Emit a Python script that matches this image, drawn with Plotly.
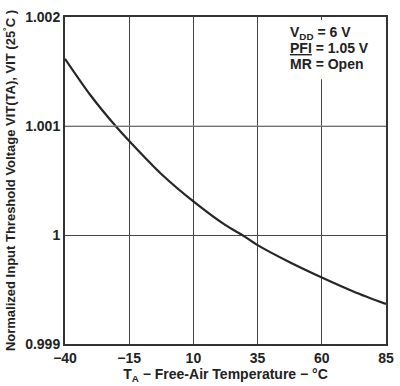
import plotly.graph_objects as go

temps = [-40, -30, -20.3, -15, -2.5, 10, 22.5, 29, 35, 47.5, 60, 72.5, 85]
vit_norm = [1.001617, 1.00128, 1.001, 1.000863, 1.00056, 1.000308, 1.00009, 1.0, 0.999907, 0.99975, 0.99961, 0.99948, 0.999367]

x_ticks = [-40, -15, 10, 35, 60, 85]
y_ticks = [0.999, 1, 1.001, 1.002]
y_tick_labels = ["0.999", "1", "1.001", "1.002"]

cond_lines = ["V<sub>DD</sub> = 6 V", "<u>PFI</u> = 1.05 V", "MR = Open"]

font_family = "Liberation Sans, Arial, sans-serif"
ink = "#222222"

fig = go.Figure()
fig.add_trace(go.Scatter(
    x=temps, y=vit_norm, mode="lines",
    line=dict(color="#262626", width=2.2, shape="spline", smoothing=0.8),
    showlegend=False, hoverinfo="skip",
))

fig.update_layout(
    width=400, height=386,
    margin=dict(l=65, r=6, t=17, b=40),
    paper_bgcolor="white", plot_bgcolor="white",
    font=dict(family=font_family, size=12, color=ink),
    xaxis=dict(
        range=[-40, 85], tickvals=x_ticks,
        ticktext=[("−" + str(-v)) if v < 0 else str(v) for v in x_ticks],
        showgrid=True, gridcolor="#444444", gridwidth=1,
        showline=True, linecolor="#333333", linewidth=2, mirror=True,
        ticks="", zeroline=False,
        tickfont=dict(family=font_family, size=14, color=ink, weight="bold"),
        title=dict(text="<b>T<sub>A</sub> − Free-Air Temperature − °C</b>",
                   font=dict(family=font_family, size=14, color=ink), standoff=4),
    ),
    yaxis=dict(
        range=[0.999, 1.002], tickvals=y_ticks, ticktext=y_tick_labels,
        showgrid=True, gridcolor="#444444", gridwidth=1,
        showline=True, linecolor="#333333", linewidth=2, mirror=True,
        ticks="", zeroline=False,
        tickfont=dict(family=font_family, size=14, color=ink, weight="bold"),
        title=dict(text="<b>Normalized Input Threshold Voltage VIT(TA), VIT (25<sup>°</sup>C )</b>",
                   font=dict(family=font_family, size=13, color=ink), standoff=7),
    ),
)

# lighter gridline at 1.001 as in the reference
fig.add_shape(type="line", xref="paper", yref="y", x0=0, x1=1, y0=y_ticks[2], y1=y_ticks[2],
              line=dict(color="#9a9a9a", width=1), layer="above")

# white box behind the conditions text
fig.add_shape(type="rect", xref="paper", yref="paper", x0=0.675, x1=0.935, y0=0.81, y1=0.99,
              fillcolor="white", line=dict(width=0), layer="above")

ys = [0.952, 0.906, 0.855]
for txt, yy in zip(cond_lines, ys):
    fig.add_annotation(
        xref="paper", yref="paper", x=0.694, y=yy, xanchor="left", yanchor="middle",
        text="<b>" + txt + "</b>", showarrow=False, align="left",
        font=dict(family=font_family, size=14, color=ink),
    )

fig.write_html("out.html", config={"displayModeBar": False},
               post_script="document.body.style.margin='0px';")
